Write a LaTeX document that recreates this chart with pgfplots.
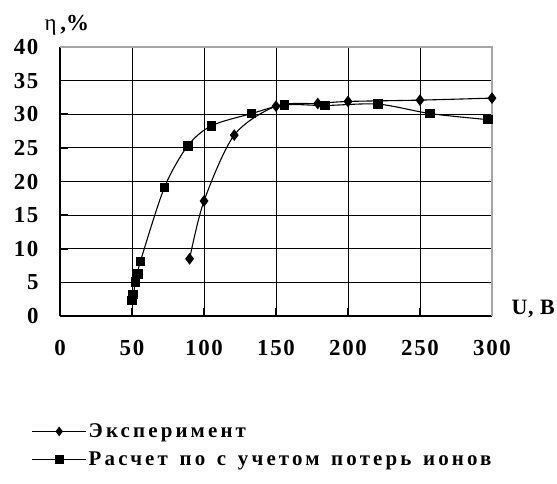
\documentclass[border=0pt]{standalone}
\usepackage{fontspec}
\setmainfont{Liberation Serif}
\newfontfamily\legfont{Liberation Serif}[LetterSpace=15,WordSpace=1.4]
\newfontfamily\tickfont{Liberation Serif}[LetterSpace=7]
\newfontfamily\unitfont{Liberation Serif}[LetterSpace=4]
\usepackage{pgfplots}
\pgfplotsset{compat=1.18}
\begin{document}
\begin{tikzpicture}[x=1bp,y=1bp]
\path[use as bounding box] (-60,-168) rectangle (497,316);
\begin{axis}[
  at={(0,0)}, anchor=south west,
  width=432bp, height=269bp, scale only axis,
  xmin=0, xmax=300, ymin=0, ymax=40,
  xtick={0,50,...,300}, ytick={0,5,...,40},
  grid=major,
  grid style={black, line width=0.9pt},
  axis x line*=bottom, axis y line*=left,
  axis line style={black, line width=1.6pt, -},
  tick align=inside, major tick length=8bp,
  tick style={black, line width=1.6pt},
  /pgf/number format/assume math mode=true,
  ticklabel style={font=\tickfont\fontsize{23}{25}\selectfont\bfseries},
  xticklabel style={yshift=-21bp},
  yticklabel style={xshift=-18bp},
  legend style={at={(rel axis cs:-0.073,-0.385)}, anchor=north west, draw=none, fill=none,
    font=\legfont\fontsize{21}{23}\selectfont\bfseries,
    row sep=9bp, legend cell align=left},
  legend image code/.code={\draw[#1, mark options={mark size=4bp}, mark repeat=2, mark phase=2] plot coordinates {(0bp,0bp) (27bp,0bp) (54bp,0bp)};},
  clip=false,
]
\draw[gray!70, line width=1.2pt] (rel axis cs:0,1) -- (rel axis cs:1,1) -- (rel axis cs:1,0);
\addplot[black, line width=1.1pt, smooth, mark=diamond*, mark options={mark size=5bp, solid}]
 coordinates {(90,8.5) (100,17.1) (121,26.9) (150,31.2) (179,31.6) (200,31.9) (250,32.1) (300,32.4)};
\addlegendentry{Эксперимент}
\addplot[black, line width=1.1pt, smooth, mark=square*, mark options={mark size=4.3bp, solid}]
 coordinates {(49.8,2.3) (50.9,3.2) (52.5,5.1) (54,6.2) (55.8,8.1) (72.5,19.1) (88.7,25.3) (105.3,28.3) (133,30.1) (156,31.4) (184,31.3) (221,31.5) (257,30.1) (297,29.2)};
\addlegendentry{Расчет по с учетом потерь ионов}
\node[anchor=base west, font=\unitfont\fontsize{22}{24}\selectfont\bfseries] at ([xshift=16bp,yshift=1bp]rel axis cs:1,0) {U, B};
\node[anchor=base west, font=\fontsize{23}{25}\selectfont] at ([xshift=-19bp,yshift=16bp]rel axis cs:0,1) {η\,\textbf{,\%}};
\end{axis}
\end{tikzpicture}
\end{document}
